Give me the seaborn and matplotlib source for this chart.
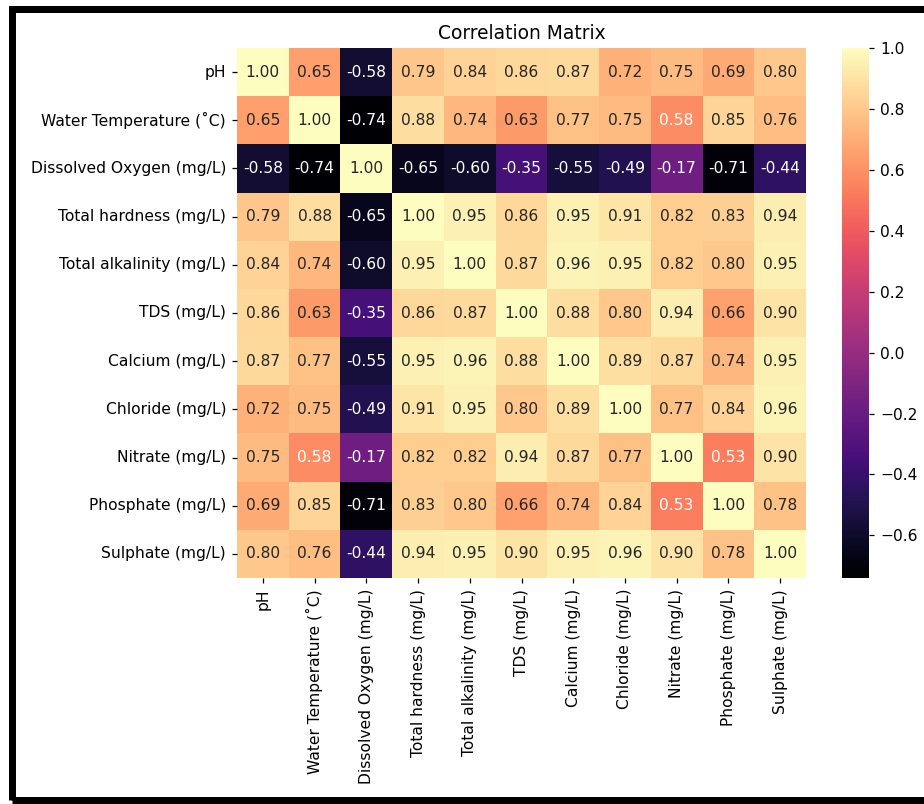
import matplotlib
matplotlib.use("Agg")
import matplotlib.pyplot as plt
from matplotlib.patches import Rectangle
import seaborn as sns
import pandas as pd


# -------------------------
# DATA
# -------------------------
labels = [
    "pH",
    "Water Temperature (˚C)",
    "Dissolved Oxygen (mg/L)",
    "Total hardness (mg/L)",
    "Total alkalinity (mg/L)",
    "TDS (mg/L)",
    "Calcium (mg/L)",
    "Chloride (mg/L)",
    "Nitrate (mg/L)",
    "Phosphate (mg/L)",
    "Sulphate (mg/L)",
]

corr_values = [
    [1.00, 0.65, -0.58, 0.79, 0.84, 0.86, 0.87, 0.72, 0.75, 0.69, 0.80],
    [0.65, 1.00, -0.74, 0.88, 0.74, 0.63, 0.77, 0.75, 0.58, 0.85, 0.76],
    [-0.58, -0.74, 1.00, -0.65, -0.60, -0.35, -0.55, -0.49, -0.17, -0.71, -0.44],
    [0.79, 0.88, -0.65, 1.00, 0.95, 0.86, 0.95, 0.91, 0.82, 0.83, 0.94],
    [0.84, 0.74, -0.60, 0.95, 1.00, 0.87, 0.96, 0.95, 0.82, 0.80, 0.95],
    [0.86, 0.63, -0.35, 0.86, 0.87, 1.00, 0.88, 0.80, 0.94, 0.66, 0.90],
    [0.87, 0.77, -0.55, 0.95, 0.96, 0.88, 1.00, 0.89, 0.87, 0.74, 0.95],
    [0.72, 0.75, -0.49, 0.91, 0.95, 0.80, 0.89, 1.00, 0.77, 0.84, 0.96],
    [0.75, 0.58, -0.17, 0.82, 0.82, 0.94, 0.87, 0.77, 1.00, 0.53, 0.90],
    [0.69, 0.85, -0.71, 0.83, 0.80, 0.66, 0.74, 0.84, 0.53, 1.00, 0.78],
    [0.80, 0.76, -0.44, 0.94, 0.95, 0.90, 0.95, 0.96, 0.90, 0.78, 1.00],
]

DPI = 112


# -------------------------
# CORRELATION HEATMAP
# -------------------------
def plot_correlation(corr):
    plt.rcParams["font.family"] = ["DejaVu Sans"]
    fig = plt.figure(figsize=(924 / DPI, 804 / DPI), dpi=DPI)
    ax = fig.add_axes([237 / 924, 1 - 578 / 804, (806 - 237) / 924, 530 / 804])
    cax = fig.add_axes([842 / 924, 1 - 578 / 804, 27 / 924, 530 / 804])

    sns.heatmap(corr, annot=True, fmt=".2f", cmap="magma", ax=ax, cbar_ax=cax)
    ax.set_title("Correlation Matrix")

    # black screenshot frame (left, top, bottom)
    frame = Rectangle((11.5 / 924, 4 / 804), 1.1, 1 - 12.5 / 804,
                      transform=fig.transFigure, fill=False,
                      edgecolor="black", linewidth=7 * 72 / DPI, clip_on=False)
    fig.add_artist(frame)

    fig.savefig("out.png", dpi=DPI)


if __name__ == "__main__":
    df = pd.DataFrame(corr_values, index=labels, columns=labels)
    plot_correlation(df)
